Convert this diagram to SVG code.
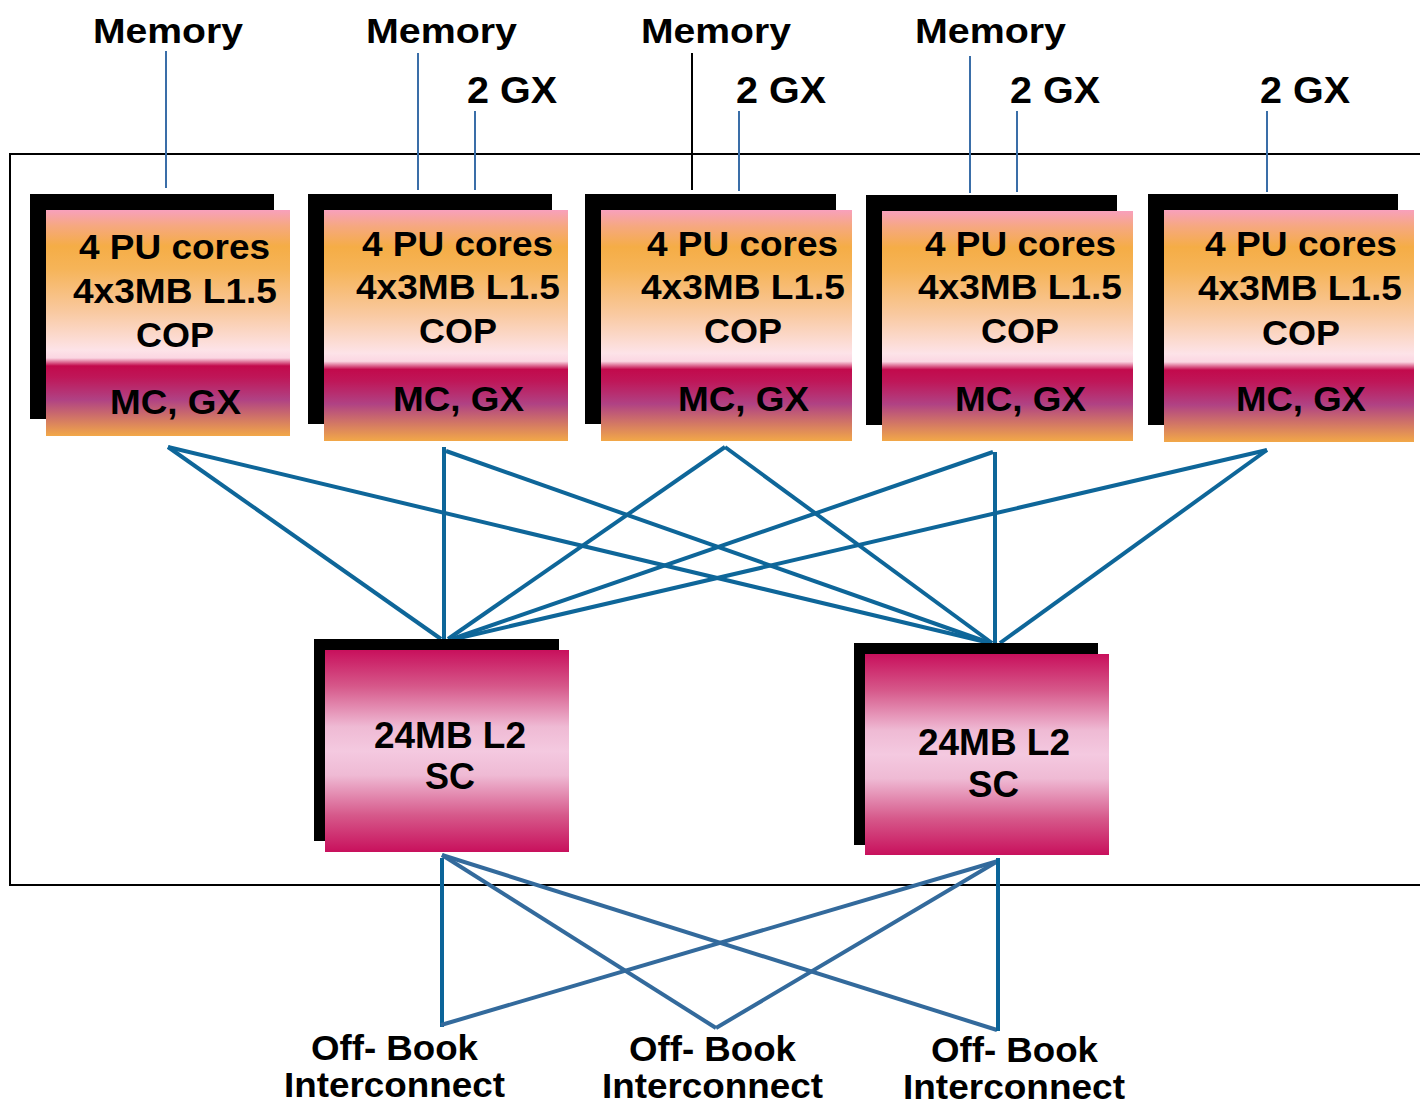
<svg xmlns="http://www.w3.org/2000/svg" width="1420" height="1106" viewBox="0 0 1420 1106">
  <defs>
    <linearGradient id="cpFill" x1="0" y1="0" x2="0" y2="1">
      <stop offset="0" stop-color="#f8a0bc"/>
      <stop offset="0.07" stop-color="#f6a880"/>
      <stop offset="0.16" stop-color="#f5ad46"/>
      <stop offset="0.26" stop-color="#f6b458"/>
      <stop offset="0.45" stop-color="#f9c9a0"/>
      <stop offset="0.62" stop-color="#fde3e8"/>
      <stop offset="0.655" stop-color="#fbd6e2"/>
      <stop offset="0.69" stop-color="#c20a4c"/>
      <stop offset="0.74" stop-color="#bf1658"/>
      <stop offset="0.84" stop-color="#b04284"/>
      <stop offset="1" stop-color="#f2a848"/>
    </linearGradient>
    <linearGradient id="scFill" x1="0" y1="0" x2="0" y2="1">
      <stop offset="0" stop-color="#c8105c"/>
      <stop offset="0.18" stop-color="#d6588a"/>
      <stop offset="0.38" stop-color="#efbad4"/>
      <stop offset="0.5" stop-color="#f4c9e0"/>
      <stop offset="0.62" stop-color="#efbad4"/>
      <stop offset="0.82" stop-color="#d6588a"/>
      <stop offset="1" stop-color="#c8105c"/>
    </linearGradient>
  </defs>
  <style>
    text { font-family: "Liberation Sans", Arial, sans-serif; font-weight: bold; fill: #000; }
    .lbl { font-size: 35px; }
    .gx { font-size: 37px; }
    .box { font-size: 35px; }
    .sc { font-size: 37px; }
    .ob { font-size: 35px; }
    .shadow { fill: #000; }
    .frame { fill: none; stroke: #000; stroke-width: 2; }
    .tap { stroke: #3a6ea8; stroke-width: 2; fill: none; }
    .tapk { stroke: #000; stroke-width: 2; fill: none; }
    .link { stroke: #0e6699; stroke-width: 4; fill: none; stroke-linecap: butt; }
    .ext { stroke: #336a9c; stroke-width: 4; fill: none; }
    .extv { stroke: #0b6499; stroke-width: 4; fill: none; }
  </style>

  <!-- chip outline, open to the right -->
  <rect class="frame" x="10" y="154" width="1430" height="731"/>

  <!-- top labels -->
  <g id="labels-top">
    <text class="lbl" x="93" y="43" textLength="150" lengthAdjust="spacingAndGlyphs">Memory</text>
    <text class="lbl" x="366" y="43" textLength="151" lengthAdjust="spacingAndGlyphs">Memory</text>
    <text class="lbl" x="641" y="43" textLength="150" lengthAdjust="spacingAndGlyphs">Memory</text>
    <text class="lbl" x="915" y="43" textLength="151" lengthAdjust="spacingAndGlyphs">Memory</text>
    <text class="gx" x="467" y="103" textLength="90" lengthAdjust="spacingAndGlyphs">2 GX</text>
    <text class="gx" x="736" y="103" textLength="90" lengthAdjust="spacingAndGlyphs">2 GX</text>
    <text class="gx" x="1010" y="103" textLength="90" lengthAdjust="spacingAndGlyphs">2 GX</text>
    <text class="gx" x="1260" y="103" textLength="90" lengthAdjust="spacingAndGlyphs">2 GX</text>
  </g>

  <!-- memory / GX taps -->
  <g id="taps">
    <line class="tap" x1="166" y1="51" x2="166" y2="188"/>
    <line class="tap" x1="418" y1="53" x2="418" y2="190"/>
    <line class="tap" x1="475" y1="111" x2="475" y2="190"/>
    <line class="tapk" x1="692" y1="53" x2="692" y2="190"/>
    <line class="tap" x1="739" y1="111" x2="739" y2="191"/>
    <line class="tap" x1="970" y1="56" x2="970" y2="193"/>
    <line class="tap" x1="1017" y1="111" x2="1017" y2="192"/>
    <line class="tap" x1="1267" y1="111" x2="1267" y2="192"/>
  </g>

  <!-- CP to SC links and off-book links -->
  <g id="connectors">
    <line class="link" x1="168" y1="447" x2="441" y2="639"/>
    <line class="link" x1="168" y1="447" x2="990" y2="643"/>
    <line class="link" x1="444" y1="447" x2="444" y2="639"/>
    <line class="link" x1="446" y1="451" x2="990" y2="643"/>
    <line class="link" x1="725" y1="447" x2="448" y2="639"/>
    <line class="link" x1="725" y1="447" x2="992" y2="643"/>
    <line class="link" x1="993" y1="452" x2="452" y2="639"/>
    <line class="link" x1="995" y1="452" x2="995" y2="643"/>
    <line class="link" x1="1267" y1="450" x2="455" y2="639"/>
    <line class="link" x1="1267" y1="450" x2="1000" y2="643"/>

    <line class="extv" x1="442" y1="858" x2="442" y2="1027"/>
    <line class="ext" x1="442" y1="855" x2="716" y2="1028"/>
    <line class="ext" x1="442" y1="855" x2="997" y2="1030"/>
    <line class="ext" x1="998" y1="861" x2="441" y2="1025"/>
    <line class="ext" x1="998" y1="861" x2="716" y2="1028"/>
    <line class="extv" x1="998" y1="858" x2="998" y2="1031"/>
  </g>

  <!-- central processor chips -->
  <g id="cp1">
    <rect class="shadow" x="30" y="194" width="244" height="225"/>
    <rect x="46" y="210" width="244" height="226" fill="url(#cpFill)"/>
    <text class="box" x="79" y="259" textLength="191" lengthAdjust="spacingAndGlyphs">4 PU cores</text>
    <text class="box" x="73" y="303" textLength="204" lengthAdjust="spacingAndGlyphs">4x3MB L1.5</text>
    <text class="box" x="136" y="347" textLength="78" lengthAdjust="spacingAndGlyphs">COP</text>
    <text class="box" x="110" y="414" textLength="131" lengthAdjust="spacingAndGlyphs">MC, GX</text>
  </g>
  <g id="cp2">
    <rect class="shadow" x="308" y="194" width="244" height="230"/>
    <rect x="324" y="210" width="244" height="231" fill="url(#cpFill)"/>
    <text class="box" x="362" y="256" textLength="191" lengthAdjust="spacingAndGlyphs">4 PU cores</text>
    <text class="box" x="356" y="299" textLength="204" lengthAdjust="spacingAndGlyphs">4x3MB L1.5</text>
    <text class="box" x="419" y="343" textLength="78" lengthAdjust="spacingAndGlyphs">COP</text>
    <text class="box" x="393" y="411" textLength="131" lengthAdjust="spacingAndGlyphs">MC, GX</text>
  </g>
  <g id="cp3">
    <rect class="shadow" x="585" y="194" width="251" height="230"/>
    <rect x="601" y="210" width="251" height="231" fill="url(#cpFill)"/>
    <text class="box" x="647" y="256" textLength="191" lengthAdjust="spacingAndGlyphs">4 PU cores</text>
    <text class="box" x="641" y="299" textLength="204" lengthAdjust="spacingAndGlyphs">4x3MB L1.5</text>
    <text class="box" x="704" y="343" textLength="78" lengthAdjust="spacingAndGlyphs">COP</text>
    <text class="box" x="678" y="411" textLength="131" lengthAdjust="spacingAndGlyphs">MC, GX</text>
  </g>
  <g id="cp4">
    <rect class="shadow" x="866" y="195" width="251" height="230"/>
    <rect x="882" y="211" width="251" height="230" fill="url(#cpFill)"/>
    <text class="box" x="925" y="256" textLength="191" lengthAdjust="spacingAndGlyphs">4 PU cores</text>
    <text class="box" x="918" y="299" textLength="204" lengthAdjust="spacingAndGlyphs">4x3MB L1.5</text>
    <text class="box" x="981" y="343" textLength="78" lengthAdjust="spacingAndGlyphs">COP</text>
    <text class="box" x="955" y="411" textLength="131" lengthAdjust="spacingAndGlyphs">MC, GX</text>
  </g>
  <g id="cp5">
    <rect class="shadow" x="1148" y="194" width="250" height="231"/>
    <rect x="1164" y="210" width="250" height="232" fill="url(#cpFill)"/>
    <text class="box" x="1205" y="256" textLength="192" lengthAdjust="spacingAndGlyphs">4 PU cores</text>
    <text class="box" x="1198" y="300" textLength="204" lengthAdjust="spacingAndGlyphs">4x3MB L1.5</text>
    <text class="box" x="1262" y="345" textLength="78" lengthAdjust="spacingAndGlyphs">COP</text>
    <text class="box" x="1236" y="411" textLength="130" lengthAdjust="spacingAndGlyphs">MC, GX</text>
  </g>

  <!-- shared cache chips -->
  <g id="sc1">
    <rect class="shadow" x="314" y="639" width="245" height="202"/>
    <rect x="325" y="650" width="244" height="202" fill="url(#scFill)"/>
    <text class="sc" x="374" y="748" textLength="152" lengthAdjust="spacingAndGlyphs">24MB L2</text>
    <text class="sc" x="425" y="789" textLength="50" lengthAdjust="spacingAndGlyphs">SC</text>
  </g>
  <g id="sc2">
    <rect class="shadow" x="854" y="643" width="244" height="202"/>
    <rect x="865" y="654" width="244" height="201" fill="url(#scFill)"/>
    <text class="sc" x="918" y="755" textLength="152" lengthAdjust="spacingAndGlyphs">24MB L2</text>
    <text class="sc" x="968" y="797" textLength="51" lengthAdjust="spacingAndGlyphs">SC</text>
  </g>

  <!-- off-book interconnect labels -->
  <g id="offbook1">
    <text class="ob" x="311" y="1060" textLength="167" lengthAdjust="spacingAndGlyphs">Off- Book</text>
    <text class="ob" x="284" y="1097" textLength="221" lengthAdjust="spacingAndGlyphs">Interconnect</text>
  </g>
  <g id="offbook2">
    <text class="ob" x="629" y="1061" textLength="167" lengthAdjust="spacingAndGlyphs">Off- Book</text>
    <text class="ob" x="602" y="1098" textLength="221" lengthAdjust="spacingAndGlyphs">Interconnect</text>
  </g>
  <g id="offbook3">
    <text class="ob" x="931" y="1062" textLength="167" lengthAdjust="spacingAndGlyphs">Off- Book</text>
    <text class="ob" x="903" y="1099" textLength="222" lengthAdjust="spacingAndGlyphs">Interconnect</text>
  </g>
</svg>
